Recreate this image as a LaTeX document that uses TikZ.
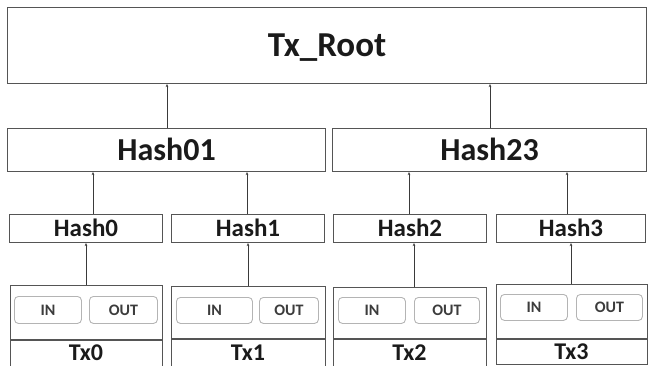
\documentclass[tikz,border=0pt]{standalone}
\usepackage{fontspec}
\setmainfont{Carlito}
\usetikzlibrary{arrows.meta}
\definecolor{framegray}{HTML}{555555}
\definecolor{softgray}{HTML}{B4B4B4}
\definecolor{inkblack}{HTML}{1A1A1A}
\definecolor{linkgray}{HTML}{3A3A3A}
\begin{document}
\begin{tikzpicture}[x=1pt,y=-1pt,
  box/.style={draw=framegray, line width=1.1pt, inner sep=0pt, anchor=north west,
    text=inkblack, align=center},
  f/.style={font=\fontsize{#1}{#1}\selectfont\bfseries, text height=0.64*#1pt, text depth=0pt},
  label/.style={inner sep=0pt, text=inkblack, f=24},
  divider/.style={draw=framegray, line width=1.1pt},
  pill/.style={draw=softgray, line width=0.9pt, rounded corners=4pt, inner sep=0pt,
    anchor=north west, text=inkblack!85, f=16},
  link/.style={draw=linkgray, line width=0.9pt, -{Stealth[length=3pt,width=2.6pt]}}]
\useasboundingbox (0,0) rectangle (648,366);
\clip (0,0) rectangle (648,366);

% root
\node[box, f=35, minimum width=639pt, minimum height=76pt] (root) at (7,7) {Tx\_Root};

% second level
\node[box, f=32, minimum width=318pt, minimum height=43pt] (h01) at (7,128) {Hash01};
\node[box, f=32, minimum width=314pt, minimum height=43pt] (h23) at (332,128) {Hash23};

% leaf hashes
\node[box, f=25, minimum width=153pt, minimum height=28pt] (h0) at (9,214) {Hash0};
\node[box, f=25, minimum width=153pt, minimum height=28pt] (h1) at (171,214) {Hash1};
\node[box, f=25, minimum width=153pt, minimum height=28pt] (h2) at (333,214) {Hash2};
\node[box, f=25, minimum width=149pt, minimum height=28pt] (h3) at (496,214) {Hash3};

% transactions: frame, divider between inputs/outputs and the name
\node[box, minimum width=152pt, minimum height=92pt] (tx0) at (10,285) {};
\node[box, minimum width=154pt, minimum height=91pt] (tx1) at (171,286) {};
\node[box, minimum width=153pt, minimum height=90pt] (tx2) at (333,287) {};
\node[box, minimum width=151pt, minimum height=80pt] (tx3) at (496,284) {};
\draw[divider] (tx0.west |- 0,340) -- (tx0.east |- 0,340);
\draw[divider] (tx1.west |- 0,339) -- (tx1.east |- 0,339);
\draw[divider] (tx2.west |- 0,339) -- (tx2.east |- 0,339);
\draw[divider] (tx3.west |- 0,339) -- (tx3.east |- 0,339);
\node[label] (tx0n) at (86,353) {Tx0};
\node[label] (tx1n) at (248,353) {Tx1};
\node[label] (tx2n) at (409.5,353) {Tx2};
\node[label] (tx3n) at (571.5,352) {Tx3};

\node[pill, minimum width=67pt, minimum height=27pt] (in0) at (14,296) {IN};
\node[pill, minimum width=68pt, minimum height=27pt] (out0) at (89,296) {OUT};
\node[pill, minimum width=76pt, minimum height=26pt] (in1) at (176,297) {IN};
\node[pill, minimum width=59pt, minimum height=26pt] (out1) at (259,297) {OUT};
\node[pill, minimum width=67pt, minimum height=26pt] (in2) at (338,297) {IN};
\node[pill, minimum width=65pt, minimum height=26pt] (out2) at (414,297) {OUT};
\node[pill, minimum width=67pt, minimum height=26pt] (in3) at (500,294) {IN};
\node[pill, minimum width=66pt, minimum height=26pt] (out3) at (576,294) {OUT};

% connectors
\draw[link] (h01.north -| 167,0) -- (root.south -| 167,0);
\draw[link] (h23.north -| 490,0) -- (root.south -| 490,0);
\draw[link] (h0.north -| 93,0) -- (h01.south -| 93,0);
\draw[link] (h1.north -| 247,0) -- (h01.south -| 247,0);
\draw[link] (h2.north -| 409,0) -- (h23.south -| 409,0);
\draw[link] (h3.north -| 567,0) -- (h23.south -| 567,0);
\draw[link] (tx0.north -| 86,0) -- (h0.south -| 86,0);
\draw[link] (tx1.north -| 248,0) -- (h1.south -| 248,0);
\draw[link] (tx2.north -| 414,0) -- (h2.south -| 414,0);
\draw[link] (tx3.north -| 571,0) -- (h3.south -| 571,0);
\end{tikzpicture}
\end{document}
